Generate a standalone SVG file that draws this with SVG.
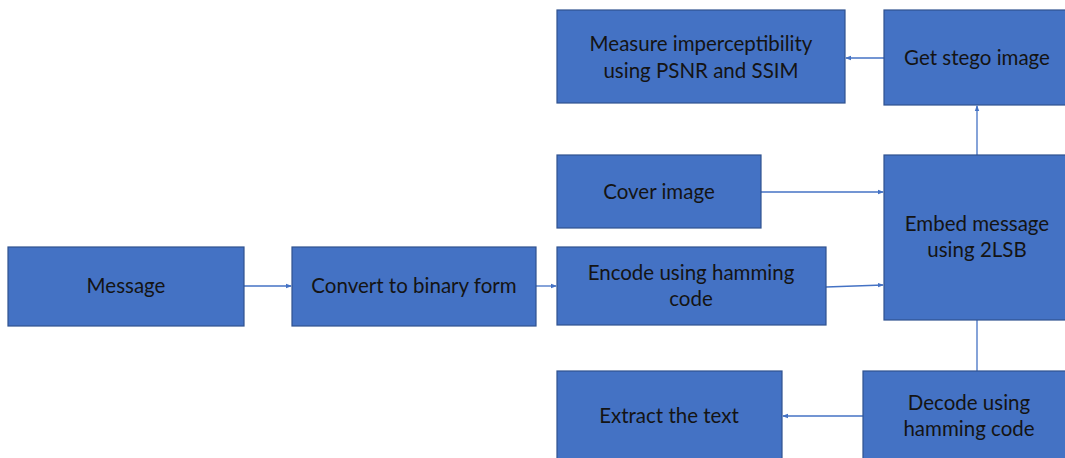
<svg xmlns="http://www.w3.org/2000/svg" width="1065" height="458" viewBox="0 0 1065 458">
<style>
.n{fill:#4472C4;stroke:#2F528F;stroke-width:1.2}
.t{font-family:Lato,"Open Sans",sans-serif;font-size:20.5px;fill:#141414;text-anchor:middle}
.c{stroke:#4472C4;stroke-width:1.3;fill:none}
</style>
<defs>
<marker id="a" markerWidth="6" markerHeight="6" refX="5" refY="3" orient="auto" markerUnits="userSpaceOnUse">
<path d="M0,0.8 L6,3 L0,5.2 Z" fill="#4472C4"/>
</marker>
</defs>
<rect width="1065" height="458" fill="#fff"/>
<g id="connectors">
<line class="c" x1="244" y1="286" x2="291" y2="286" marker-end="url(#a)"/>
<line class="c" x1="536" y1="286" x2="556" y2="286" marker-end="url(#a)"/>
<line class="c" x1="761" y1="192" x2="883" y2="192" marker-end="url(#a)"/>
<line class="c" x1="826" y1="287" x2="883" y2="285" marker-end="url(#a)"/>
<line class="c" x1="977" y1="155" x2="977" y2="106" marker-end="url(#a)"/>
<line class="c" x1="884" y1="58" x2="846" y2="58" marker-end="url(#a)"/>
<line class="c" x1="977" y1="320" x2="977" y2="371"/>
<line class="c" x1="863" y1="416" x2="783" y2="416" marker-end="url(#a)"/>
</g>
<g id="message"><rect class="n" x="8" y="247" width="236" height="79"/><text class="t" x="126" y="293">Message</text></g>
<g id="convert"><rect class="n" x="292" y="247" width="244" height="79"/><text class="t" x="414" y="293">Convert to binary form</text></g>
<g id="encode"><rect class="n" x="557" y="247" width="269" height="78"/><text class="t" x="691" y="280">Encode using hamming</text><text class="t" x="691" y="306">code</text></g>
<g id="cover"><rect class="n" x="557" y="155" width="204" height="73"/><text class="t" x="659" y="199">Cover image</text></g>
<g id="measure"><rect class="n" x="557" y="10" width="288" height="93"/><text class="t" x="701" y="51">Measure imperceptibility</text><text class="t" x="701" y="78">using PSNR and SSIM</text></g>
<g id="stego"><rect class="n" x="884" y="10" width="190" height="95"/><text class="t" x="977" y="65">Get stego image</text></g>
<g id="embed"><rect class="n" x="884" y="155" width="190" height="165"/><text class="t" x="977" y="231">Embed message</text><text class="t" x="977" y="257">using 2LSB</text></g>
<g id="decode"><rect class="n" x="863" y="371" width="211" height="95"/><text class="t" x="969" y="410">Decode using</text><text class="t" x="969" y="436">hamming code</text></g>
<g id="extract"><rect class="n" x="557" y="371" width="225" height="95"/><text class="t" x="669" y="423">Extract the text</text></g>
</svg>
